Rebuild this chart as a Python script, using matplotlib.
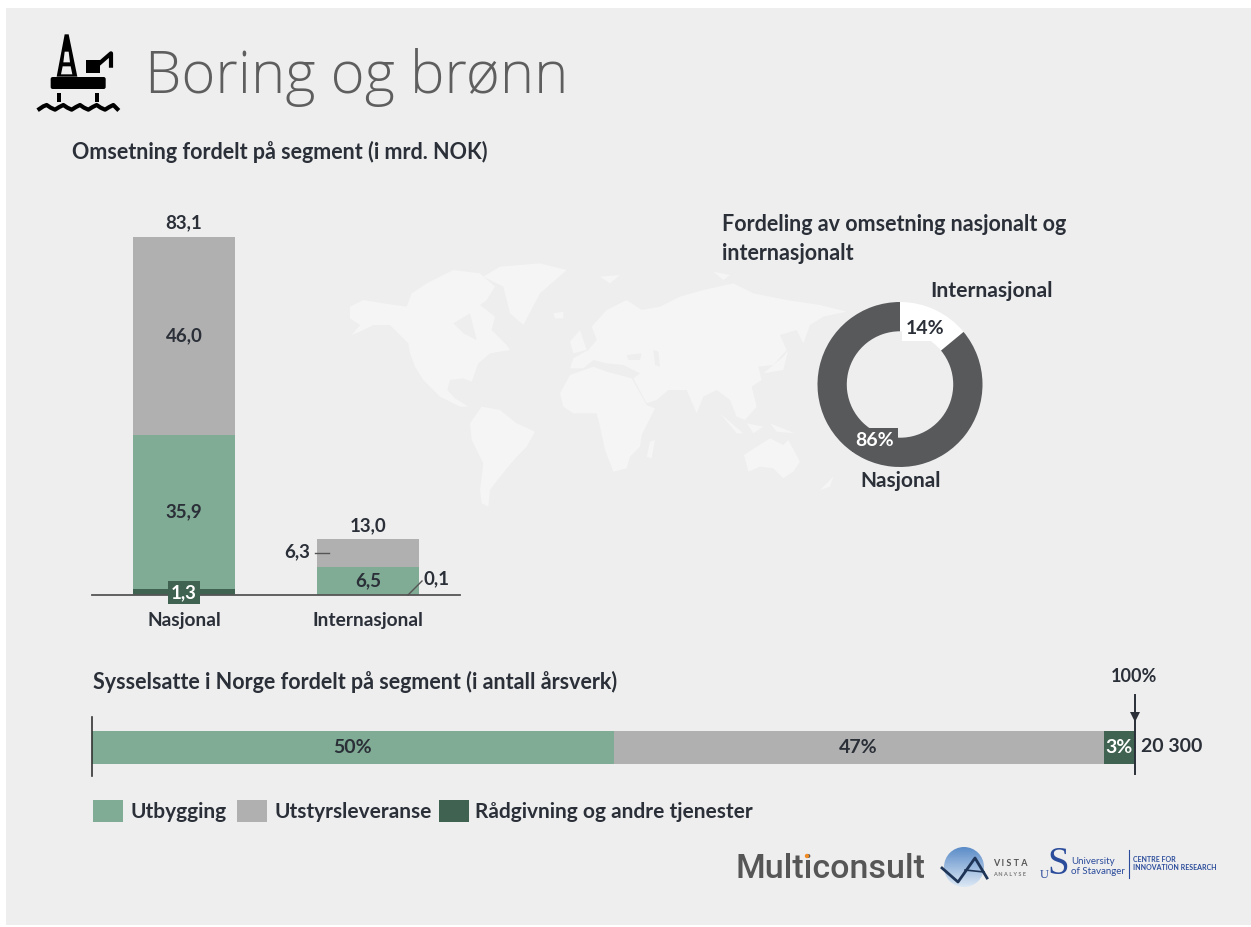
import matplotlib

matplotlib.use("Agg")
import matplotlib.pyplot as plt
import numpy as np
from matplotlib.patches import Circle, FancyBboxPatch, Polygon, Rectangle

W, H = 1251, 927

# --- data ---
SEGMENTS = ["Utbygging", "Utstyrsleveranse", "Rådgivning og andre tjenester"]
MARKETS = ["Nasjonal", "Internasjonal"]
REVENUE_ADVICE = [1.3, 0.1]
REVENUE_BUILD = [35.9, 6.5]
REVENUE_EQUIP = [46.0, 6.3]
REVENUE_TOTAL = ["83,1", "13,0"]
SHARE_LABELS = ["Internasjonal", "Nasjonal"]
SHARE_VALUES = [14, 86]
EMPLOY_PCT = [50, 47, 3]
EMPLOY_TOTAL = "20 300"

GREEN = "#80AB94"
GREY = "#B0B0B0"
DARK = "#3F6350"
DONUT = "#58595B"
INK = "#2A2F38"
PANEL = "#EEEEEF"
LAND = "#F5F5F5"

# rough world map outline, in px of a 3x crop with origin (340, 250)
MAP_LAND = [
    [(30, 170), (70, 150), (130, 160), (200, 170), (215, 130), (260, 100), (340, 60), (420, 70), (465, 110),
     (440, 150), (420, 165), (465, 200), (455, 240), (500, 285), (510, 300), (450, 310), (415, 340), (395, 395),
     (370, 385), (330, 390), (322, 420), (345, 445), (385, 470), (360, 470), (300, 440), (250, 390), (225, 350),
     (210, 310), (205, 280), (150, 225), (100, 225), (60, 245), (35, 255), (60, 225), (30, 205)],
    [(430, 80), (480, 50), (600, 40), (680, 60), (600, 130), (550, 225), (510, 190), (490, 110)],
    [(390, 520), (425, 470), (480, 480), (530, 520), (585, 545), (560, 590), (530, 620), (480, 680), (450, 720),
     (445, 770), (425, 760), (420, 720), (430, 640), (395, 570)],
    [(660, 430), (690, 375), (760, 350), (800, 365), (875, 385), (920, 465), (945, 475), (905, 555), (900, 590),
     (870, 620), (860, 655), (820, 665), (795, 600), (780, 530), (770, 490), (700, 490), (670, 470)],
    [(690, 355), (700, 325), (745, 300), (770, 270), (755, 230), (800, 180), (860, 150), (905, 180), (960, 170),
     (1020, 140), (1090, 120), (1180, 100), (1240, 130), (1340, 150), (1440, 165), (1520, 185), (1450, 200),
     (1410, 225), (1390, 280), (1370, 240), (1320, 255), (1340, 300), (1300, 345), (1255, 350), (1265, 390),
     (1235, 410), (1250, 470), (1215, 510), (1190, 500), (1170, 450), (1130, 420), (1090, 440), (1070, 490),
     (1040, 420), (985, 420), (950, 450), (920, 460), (880, 385), (900, 370), (850, 345), (800, 340), (760, 330),
     (730, 355)],
    [(1212, 615), (1250, 590), (1290, 565), (1330, 585), (1345, 570), (1380, 635), (1360, 665), (1330, 685),
     (1300, 655), (1260, 650), (1225, 665)],
    [(690, 275), (720, 240), (740, 300), (700, 310)],
    [(920, 620), (930, 575), (945, 570), (935, 625)],
    [(1330, 320), (1345, 300), (1330, 360), (1270, 370)],
    [(1440, 720), (1480, 680), (1470, 710)],
    [(640, 190), (670, 185), (670, 205), (645, 205)],
    [(1140, 490), (1210, 550), (1190, 550)],
    [(1220, 520), (1270, 530), (1240, 550)],
    [(1290, 520), (1365, 550), (1310, 545)],
    [(780, 80), (840, 75), (810, 100)],
    [(1120, 65), (1170, 75), (1150, 90)],
]
MAP_WATER = [
    [(340, 220), (390, 190), (410, 270), (370, 250)],
    [(860, 315), (905, 310), (900, 330), (865, 330)],
    [(940, 300), (955, 305), (960, 350), (945, 345)],
]

plt.rcParams["font.family"] = ["Lato", "DejaVu Sans"]

fig = plt.figure(figsize=(W / 100, H / 100), dpi=100, facecolor="white")


def axes_px(x0, y0, x1, y1, **kw):
    return fig.add_axes([x0 / W, 1 - y1 / H, (x1 - x0) / W, (y1 - y0) / H], **kw)


# full-figure layer in pixel coordinates for everything around the charts
bg = axes_px(0, 0, W, H, zorder=0)
bg.set_xlim(0, W)
bg.set_ylim(H, 0)
bg.axis("off")
bg.add_patch(Rectangle((6, 8), W - 6, H - 10, color=PANEL, lw=0))

for shape in MAP_LAND:
    bg.add_patch(Polygon([(340 + x / 3, 250 + y / 3) for x, y in shape], color=LAND, lw=0))
for shape in MAP_WATER:
    bg.add_patch(Polygon([(340 + x / 3, 250 + y / 3) for x, y in shape], color=PANEL, lw=0))


def icon_xy(x, y):
    return 30 + x / 3, 25 + y / 3


# rig icon
bg.add_patch(Polygon([icon_xy(*p) for p in [(104, 28), (116, 28), (142, 155), (80, 155)]], color="black", lw=0))
bg.add_patch(Polygon([icon_xy(*p) for p in [(104, 80), (116, 80), (120, 112), (100, 112)]], color=PANEL, lw=0))
bg.add_patch(Polygon([icon_xy(*p) for p in [(98, 124), (122, 124), (127, 148), (93, 148)]], color=PANEL, lw=0))
x0, y0 = icon_xy(62, 156)
bg.add_patch(FancyBboxPatch((x0, y0), 55, 12, boxstyle="round,pad=0,rounding_size=2", color="black", lw=0))
x0, y0 = icon_xy(167, 105)
bg.add_patch(Rectangle((x0, y0), 14.5, 13, color="black", lw=0))
bg.plot(*zip(*[icon_xy(*p) for p in [(205, 118), (243, 85), (243, 122)]]), color="black", lw=3)
for lx in (80, 196):
    x0, y0 = icon_xy(lx, 205)
    bg.add_patch(Rectangle((x0, y0), 4, 9, color="black", lw=0))
wave = [(28, 252), (40, 244), (50, 240), (62, 248), (75, 254), (88, 246), (100, 240), (112, 248), (125, 254),
        (138, 246), (150, 240), (162, 248), (175, 254), (188, 246), (200, 240), (212, 248), (225, 254),
        (238, 246), (250, 240), (262, 252)]
bg.plot(*zip(*[icon_xy(*p) for p in wave]), color="black", lw=3, solid_joinstyle="round")

# headings
bg.text(145, 93, "Boring og brønn", fontsize=41.8, color="#5E5E5E", family="Open Sans", fontweight="light",
        va="baseline", ha="left")
head = dict(fontsize=15.5, fontweight="bold", color=INK, va="center")
bg.text(72, 152, "Omsetning fordelt på segment (i mrd. NOK)", **head)
bg.text(722, 224, "Fordeling av omsetning nasjonalt og", **head)
bg.text(722, 253, "internasjonalt", **head)
bg.text(93, 682, "Sysselsatte i Norge fordelt på segment (i antall årsverk)", **head)

# stacked bars, y scale 358 px for the 83.2 stack
ax = axes_px(92, 237, 460, 595, zorder=2)
ax.patch.set_alpha(0)
x = np.arange(len(MARKETS))
advice = np.array(REVENUE_ADVICE)
build = np.array(REVENUE_BUILD)
equip = np.array(REVENUE_EQUIP)
ax.bar(x, advice, 0.554, color=DARK)
ax.bar(x, build, 0.554, bottom=advice, color=GREEN)
ax.bar(x, equip, 0.554, bottom=advice + build, color=GREY)
ax.set_xlim(-0.5, 1.5)
ax.set_ylim(0, advice[0] + build[0] + equip[0])
ax.set_yticks([])
ax.set_xticks(x, MARKETS, fontsize=13.8, fontweight="bold", color=INK)
ax.tick_params(axis="x", length=0, pad=12)
for side in ("top", "left", "right"):
    ax.spines[side].set_visible(False)
ax.spines["bottom"].set_color("#555555")
ax.spines["bottom"].set_linewidth(1.3)

lab = dict(fontsize=13.5, fontweight="bold", color=INK, ha="center", va="center")
ax.text(0, advice[0] + build[0] + equip[0] / 2, f"{equip[0]:.1f}".replace(".", ","), **lab)
ax.text(0, advice[0] + build[0] / 2, f"{build[0]:.1f}".replace(".", ","), **lab)
ax.text(1, advice[1] + build[1] / 2, f"{build[1]:.1f}".replace(".", ","), **lab)
stack_top = advice + build + equip
for i, txt in enumerate(REVENUE_TOTAL):
    ax.annotate(txt, (x[i], stack_top[i]), xytext=(0, 10), textcoords="offset points", **lab)
ax.text(0, 0.55, f"{advice[0]:.1f}".replace(".", ","), fontsize=13.5, fontweight="bold", color="white", ha="center",
        va="center", clip_on=False, zorder=5,
        bbox=dict(boxstyle="square,pad=0.16", fc=DARK, ec="none"))
top = axes_px(0, 0, W, H, zorder=3)
top.set_xlim(0, W)
top.set_ylim(H, 0)
top.axis("off")
top.text(297, 552, f"{equip[1]:.1f}".replace(".", ","), **lab)
top.plot([315, 329], [553, 553], color="#555555", lw=1)
top.text(437, 579, f"{advice[1]:.1f}".replace(".", ","), **lab)
top.plot([408, 422], [595, 581], color="#555555", lw=1)

# donut
dax = axes_px(817.5, 302, 982.5, 467, zorder=2)
dax.pie(SHARE_VALUES, colors=["white", DONUT], startangle=90, counterclock=False, radius=1,
        wedgeprops=dict(width=0.355, lw=0))
dax.set_xlim(-1, 1)
dax.set_ylim(-1, 1)
top.text(925, 329, f"{SHARE_VALUES[0]}%", fontsize=14, fontweight="bold", color=INK, ha="center", va="center",
         bbox=dict(boxstyle="square,pad=0.18", fc="white", ec="none"))
top.text(875, 440, f"{SHARE_VALUES[1]}%", fontsize=14, fontweight="bold", color="white", ha="center", va="center",
         bbox=dict(boxstyle="square,pad=0.18", fc=DONUT, ec="none"))
top.text(991, 291, SHARE_LABELS[0], fontsize=15.2, fontweight="bold", color=INK, ha="center", va="center")
top.text(901, 481, SHARE_LABELS[1], fontsize=15, fontweight="bold", color=INK, ha="center", va="center")

# employment bar
eax = axes_px(92, 731, 1135, 764, zorder=2)
eax.axis("off")
eax.set_xlim(0, sum(EMPLOY_PCT))
eax.set_ylim(0, 1)
left = 0
for pct, color, tcol in zip(EMPLOY_PCT, [GREEN, GREY, DARK], [INK, INK, "white"]):
    eax.barh(0.5, pct, 1, left=left, color=color)
    eax.text(left + pct / 2, 0.5, f"{pct}%", fontsize=14, fontweight="bold", color=tcol, ha="center", va="center")
    left += pct
top.plot([92, 92], [717, 776], color="#333333", lw=1.2)
top.plot([1135, 1135], [695, 774], color=INK, lw=1.4)
top.add_patch(Polygon([(1130, 712), (1140, 712), (1135, 722)], color=INK, lw=0))
top.text(1134, 676, "100%", fontsize=13, fontweight="bold", color=INK, ha="center", va="center")
top.text(1141, 747, EMPLOY_TOTAL, fontsize=14, fontweight="bold", color=INK, ha="left", va="center")

# legend
for sx, color, name, tx in zip([93, 237, 439], [GREEN, GREY, DARK], SEGMENTS, [130, 274, 475]):
    top.add_patch(Rectangle((sx, 800), 30, 22, color=color, lw=0))
    top.text(tx, 812, name, fontsize=15, fontweight="bold", color=INK, va="center")

# logos
top.text(736, 869, "Multiconsult", fontsize=24.5, fontweight="medium", color="#565656", va="center", family="Roboto")
top.add_patch(Circle((807, 856), 2.2, color="#F08A24", lw=0, zorder=5))
grad = np.linspace(0, 1, 64).reshape(-1, 1)
cmap = matplotlib.colors.LinearSegmentedColormap.from_list("vista", ["#5B8CC8", "#DCE8F5"])
im = top.imshow(grad, extent=(944, 984, 887, 847), cmap=cmap, aspect="auto", zorder=1)
im.set_clip_path(Circle((964, 867), 20, transform=top.transData))
top.set_xlim(0, W)
top.set_ylim(H, 0)
top.plot([942, 958, 975, 987], [868, 882, 858, 878], color="#1F3557", lw=2, zorder=2)
top.plot([965, 984], [870, 872], color="#1F3557", lw=1.2, zorder=2)
top.text(993, 864, "V I S T A", fontsize=6.5, fontweight="bold", color="#555555", va="center")
top.text(993, 874, "A N A L Y S E", fontsize=4, fontweight="bold", color="#777777", va="center")
top.text(1058, 864, "S", fontsize=28, color="#2B4C9B", family="Liberation Serif", ha="center", va="center")
top.text(1044, 875, "U", fontsize=9, color="#2B4C9B", family="Liberation Serif", ha="center", va="center")
top.text(1071, 861, "University", fontsize=7, color="#2B4C9B", va="center")
top.text(1071, 871, "of Stavanger", fontsize=7, color="#2B4C9B", va="center")
top.plot([1129, 1129], [850, 878], color="#2B4C9B", lw=0.8)
top.text(1133, 860, "CENTRE FOR", fontsize=5, fontweight="bold", color="#2B4C9B", va="center")
top.text(1133, 868, "INNOVATION RESEARCH", fontsize=5, fontweight="bold", color="#2B4C9B", va="center")

fig.savefig("out.png", dpi=100, facecolor="white")
